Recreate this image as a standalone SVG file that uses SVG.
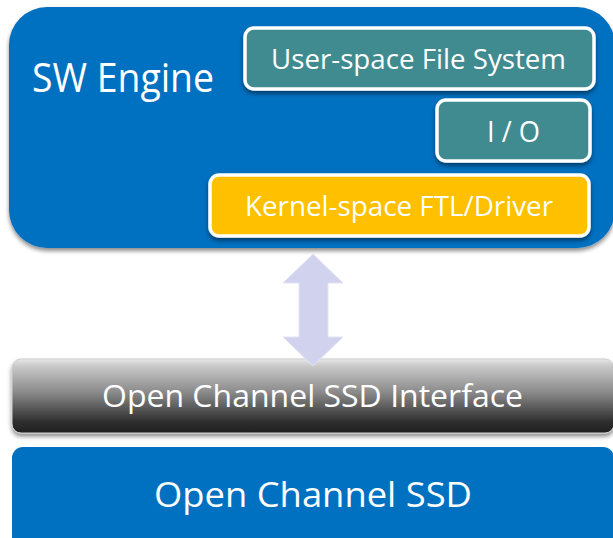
<svg xmlns="http://www.w3.org/2000/svg" width="613" height="538" viewBox="0 0 613 538">
<style>
.lbl{font-family:"Open Sans","Noto Sans","Liberation Sans",sans-serif;fill:#ffffff;}
.box{stroke:#ffffff;stroke-width:3.5;}
</style>
<defs>
<filter id="sh" x="-10%" y="-10%" width="120%" height="140%">
<feDropShadow dx="0" dy="3" stdDeviation="2" flood-color="#000" flood-opacity="0.45"/>
</filter>
<linearGradient id="gray" x1="0" y1="0" x2="0" y2="1">
<stop offset="0" stop-color="#e6e6e6"/>
<stop offset="0.1" stop-color="#c8c8c8"/>
<stop offset="0.45" stop-color="#8a8a8a"/>
<stop offset="0.85" stop-color="#2e2e2e"/>
<stop offset="1" stop-color="#202020"/>
</linearGradient>
</defs>
<rect width="613" height="538" fill="#ffffff"/>
<g id="sw-engine">
<rect x="9" y="7" width="606" height="241" rx="38" fill="#0070C0" filter="url(#sh)"/>
<text class="lbl" x="32" y="92" font-size="40" textLength="182" lengthAdjust="spacingAndGlyphs">SW Engine</text>
</g>
<g id="user-fs">
<rect class="box" x="245" y="28" width="349" height="61" rx="9" fill="#3F8B8F" filter="url(#sh)"/>
<text class="lbl" x="271" y="69" font-size="27" textLength="295" lengthAdjust="spacingAndGlyphs">User-space File System</text>
</g>
<g id="io">
<rect class="box" x="437" y="100" width="153" height="61" rx="9" fill="#3F8B8F" filter="url(#sh)"/>
<text class="lbl" x="487" y="142" font-size="30" textLength="53" lengthAdjust="spacingAndGlyphs">I / O</text>
</g>
<g id="kernel">
<rect class="box" x="210" y="175" width="379" height="61" rx="9" fill="#FFC000" filter="url(#sh)"/>
<text class="lbl" x="245" y="216" font-size="27" textLength="308" lengthAdjust="spacingAndGlyphs">Kernel-space FTL/Driver</text>
</g>
<g id="interface">
<rect x="12" y="359" width="602" height="74" rx="9" fill="url(#gray)" stroke="#cfcfcf" stroke-width="1" filter="url(#sh)"/>
<text class="lbl" x="102" y="407" font-size="31" textLength="421" lengthAdjust="spacingAndGlyphs">Open Channel SSD Interface</text>
</g>
<g id="ssd">
<rect x="12" y="447" width="602" height="110" rx="11" fill="#0070C0"/>
<text class="lbl" x="154" y="507" font-size="35" textLength="318" lengthAdjust="spacingAndGlyphs">Open Channel SSD</text>
</g>
<g id="connectors">
<polygon points="313,254 343,283 328,283 328,337 343,337 313,366 283,337 299,337 299,283 283,283" fill="#D0D2EE" stroke="#E2E3F5" stroke-width="1"/>
</g>
</svg>
